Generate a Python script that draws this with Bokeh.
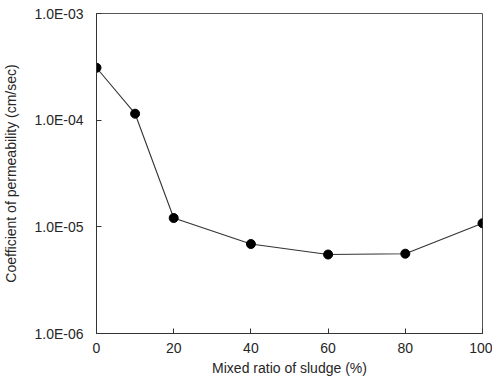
from bokeh.plotting import figure
from bokeh.models import FixedTicker, CustomJSTickFormatter, Range1d
from bokeh.embed import file_html
from bokeh.resources import INLINE

ratio = [0, 10, 20, 40, 60, 80, 100]
permeability = [3.1e-4, 1.15e-4, 1.21e-5, 6.9e-6, 5.5e-6, 5.6e-6, 1.08e-5]
x_ticks = [0, 20, 40, 60, 80, 100]
y_ticks = [1e-6, 1e-5, 1e-4, 1e-3]

FONT = "Liberation Sans"
TXT = "#262626"

p = figure(width=492, height=378, y_axis_type="log",
           x_range=Range1d(0, 100), y_range=Range1d(1e-6, 1e-3),
           output_backend="svg", toolbar_location=None,
           min_border_left=96, min_border_right=10,
           min_border_top=13, min_border_bottom=45)

p.line(ratio, permeability, line_color="#333333", line_width=1.1)
p.scatter(ratio, permeability, size=9, fill_color="black", line_color="black")

p.xgrid.visible = False
p.ygrid.visible = False
p.outline_line_color = "#555555"
p.outline_line_width = 1
p.background_fill_color = "white"
p.border_fill_color = "white"

p.xaxis.ticker = FixedTicker(ticks=x_ticks)
p.yaxis.ticker = FixedTicker(ticks=y_ticks, minor_ticks=[])
p.yaxis.formatter = CustomJSTickFormatter(code="""
var e = Math.round(Math.log10(tick));
var a = Math.abs(e);
return '1.0E' + (e < 0 ? '-' : '+') + (a < 10 ? '0' : '') + a;
""")

for ax in (p.xaxis[0], p.yaxis[0]):
    ax.major_tick_in = 5
    ax.major_tick_out = 0
    ax.minor_tick_in = 0
    ax.minor_tick_out = 0
    ax.axis_line_color = "#333333"
    ax.major_tick_line_color = "#333333"
    ax.major_label_text_font = FONT
    ax.major_label_text_font_size = "14px"
    ax.major_label_text_color = TXT
    ax.axis_label_text_font = FONT
    ax.axis_label_text_font_size = "14px"
    ax.axis_label_text_font_style = "normal"
    ax.axis_label_text_color = TXT

p.xaxis.axis_label = "Mixed ratio of sludge (%)"
p.yaxis.axis_label = "Coefficient of permeability (cm/sec)"
p.xaxis.major_label_standoff = 9
p.yaxis.major_label_standoff = 13
p.xaxis.axis_label_standoff = 4
p.yaxis.axis_label_standoff = 12

open("out.html", "w").write(file_html(p, INLINE))
